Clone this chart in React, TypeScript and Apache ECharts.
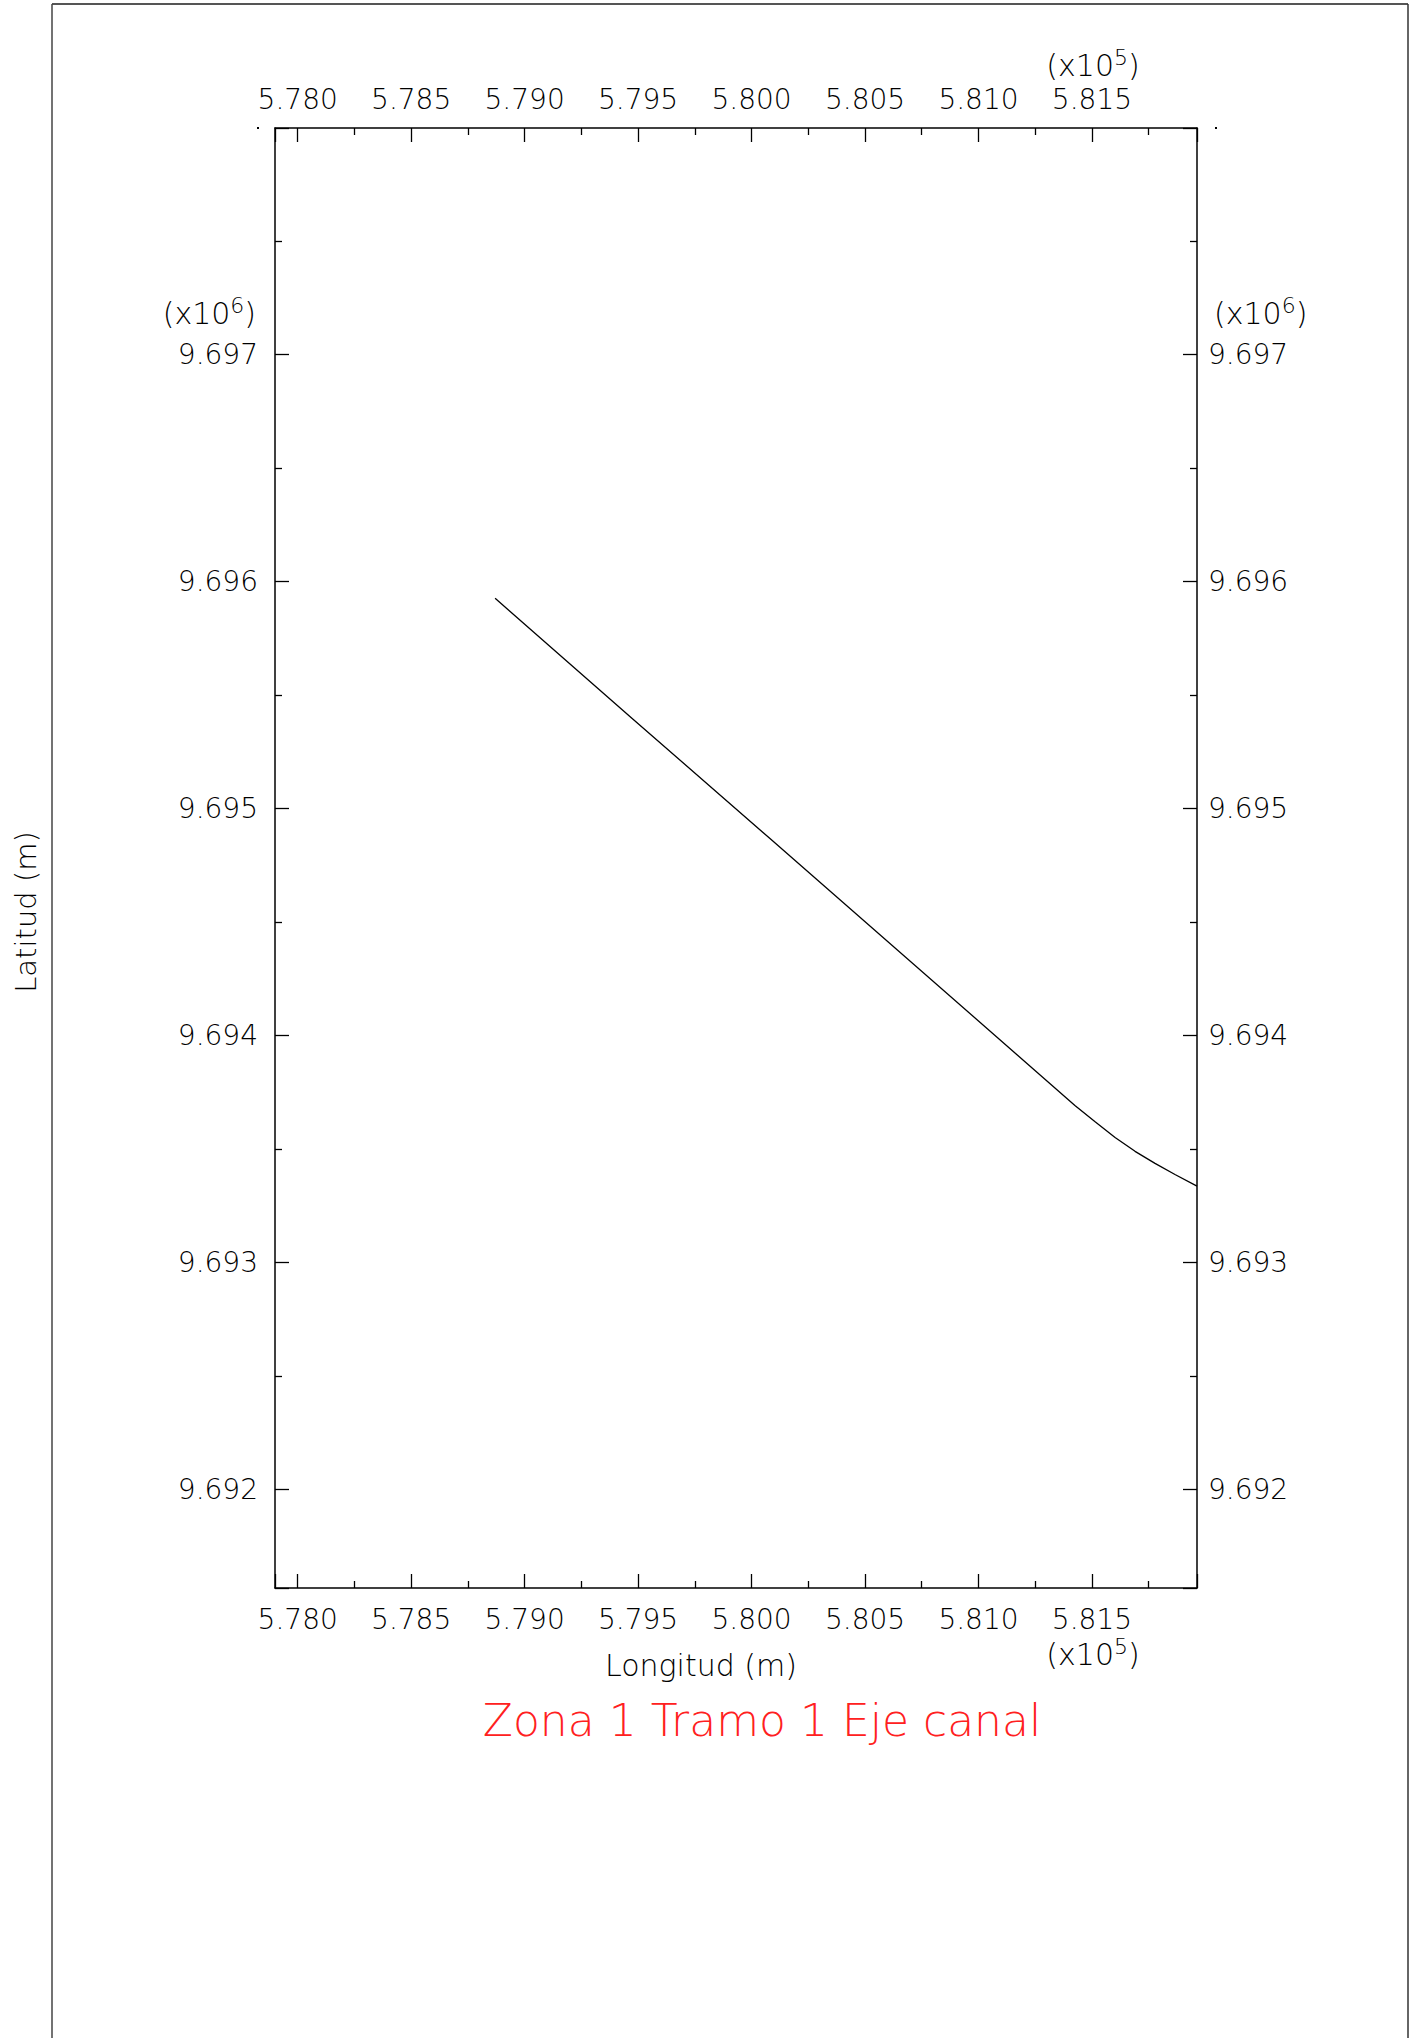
import React, { useEffect, useRef } from "react";
import * as echarts from "echarts";

// ---- data ----
const lonRange = [577900, 581963];
const latRange = [9691566, 9697999];
const lonStep = 500;
const latStep = 1000;
const lonDivisor = 1e5;
const latDivisor = 1e6;

const canalLon = [578870, 579479, 580085, 581293, 581425, 581514, 581602, 581690, 581778, 581866, 581963];
const canalLat = [9695927, 9695393, 9694865, 9693808, 9693692, 9693620, 9693551, 9693490, 9693437, 9693388, 9693337];

const titleText = "Zona 1 Tramo 1 Eje canal";
const xName = "Longitud (m)";
const yName = "Latitud (m)";
const lonExp = "5";
const latExp = "6";

const FONT = "DejaVu Sans";
const FW = 200;

function lonAxis(position: string, margin: number) {
  return {
    type: "value",
    gridIndex: 0,
    position,
    min: lonRange[0],
    max: lonRange[1],
    splitNumber: 8,
    minInterval: lonStep,
    maxInterval: lonStep,
    axisLine: { show: true, onZero: false, lineStyle: { color: "#000", width: 1.5 } },
    axisTick: { show: true, inside: true, length: 14, lineStyle: { color: "#000", width: 1.3 } },
    minorTick: { show: true, splitNumber: 2, length: 7, lineStyle: { color: "#000", width: 1.3 } },
    splitLine: { show: false },
    axisLabel: {
      show: true,
      margin,
      showMinLabel: false,
      showMaxLabel: false,
      color: "#000",
      fontFamily: FONT,
      fontWeight: FW,
      fontSize: 28,
      lineHeight: 28,
      formatter: (v: number) => (Math.abs(v % lonStep) < 1e-6 ? (v / lonDivisor).toFixed(3) : ""),
    },
  };
}

function latAxis(position: string, margin: number) {
  return {
    type: "value",
    gridIndex: 0,
    position,
    min: latRange[0],
    max: latRange[1],
    splitNumber: 6,
    minInterval: latStep,
    maxInterval: latStep,
    axisLine: { show: true, onZero: false, lineStyle: { color: "#000", width: 1.5 } },
    axisTick: { show: true, inside: true, length: 14, lineStyle: { color: "#000", width: 1.3 } },
    minorTick: { show: true, splitNumber: 2, length: 7, lineStyle: { color: "#000", width: 1.3 } },
    splitLine: { show: false },
    axisLabel: {
      show: true,
      margin,
      showMinLabel: false,
      showMaxLabel: false,
      color: "#000",
      fontFamily: FONT,
      fontWeight: FW,
      fontSize: 28,
      lineHeight: 28,
      formatter: (v: number) => (Math.abs(v % latStep) < 1e-6 ? (v / latDivisor).toFixed(3) : ""),
    },
  };
}

function expText(exp: string, x: number, y: number, align: string) {
  return {
    type: "text",
    x,
    y,
    style: {
      text: `{m|(x10}{s|${exp}}{m|)}`,
      align,
      verticalAlign: "middle",
      rich: {
        m: { fontSize: 30, fontFamily: FONT, fontWeight: FW, fill: "#000", verticalAlign: "bottom", lineHeight: 34 },
        s: { fontSize: 22, fontFamily: FONT, fontWeight: FW, fill: "#000", verticalAlign: "top", lineHeight: 34 },
      },
    },
  };
}

export default function App() {
  const ref = useRef<HTMLDivElement>(null);
  useEffect(() => {
    if (!ref.current) return;
    const chart = echarts.init(ref.current, null, { renderer: "svg" });
    const data = canalLon.map((x, i) => [x, canalLat[i]]);
    chart.setOption({
      animation: false,
      backgroundColor: "#fff",
      grid: { left: 275, top: 128, width: 922, height: 1460, containLabel: false, outerBoundsMode: "none" },
      xAxis: [lonAxis("bottom", 17), lonAxis("top", 15)],
      yAxis: [latAxis("left", 17), latAxis("right", 11)],
      series: [
        {
          type: "line",
          xAxisIndex: 0,
          yAxisIndex: 0,
          data,
          showSymbol: false,
          symbol: "none",
          lineStyle: { color: "#000", width: 1.3 },
          silent: true,
        },
      ],
      graphic: [
        // outer frame
        { type: "line", shape: { x1: 52, y1: 4, x2: 1408, y2: 4 }, style: { stroke: "#555", lineWidth: 2 } },
        { type: "line", shape: { x1: 52, y1: 4, x2: 52, y2: 2038 }, style: { stroke: "#444", lineWidth: 1.5 } },
        { type: "line", shape: { x1: 1408, y1: 4, x2: 1408, y2: 2038 }, style: { stroke: "#333", lineWidth: 1.5 } },
        // small marks at top axis ends
        { type: "rect", shape: { x: 257, y: 127, width: 2, height: 2 }, style: { fill: "#000" } },
        { type: "rect", shape: { x: 1215, y: 127, width: 2, height: 2 }, style: { fill: "#000" } },
        // exponent labels
        expText(lonExp, 1093, 63, "center"),
        expText(lonExp, 1093, 1652, "center"),
        expText(latExp, 256, 311, "right"),
        expText(latExp, 1214, 311, "left"),
        // axis names
        {
          type: "text",
          x: 701,
          y: 1665,
          style: { text: xName, align: "center", verticalAlign: "middle", fontSize: 30, fontFamily: FONT, fontWeight: FW, fill: "#000" },
        },
        {
          type: "text",
          x: 26,
          y: 912,
          rotation: Math.PI / 2,
          style: { text: yName, align: "center", verticalAlign: "middle", fontSize: 29, fontFamily: FONT, fontWeight: FW, fill: "#000" },
        },
        // title
        {
          type: "text",
          x: 762,
          y: 1720,
          style: { text: titleText, align: "center", verticalAlign: "middle", fontSize: 44, fontFamily: FONT, fontWeight: FW, fill: "#ff2020" },
        },
      ],
    });
    return () => chart.dispose();
  }, []);
  return <div ref={ref} style={{ position: "absolute", left: 0, top: 0, width: 1414, height: 2038 }} />;
}
